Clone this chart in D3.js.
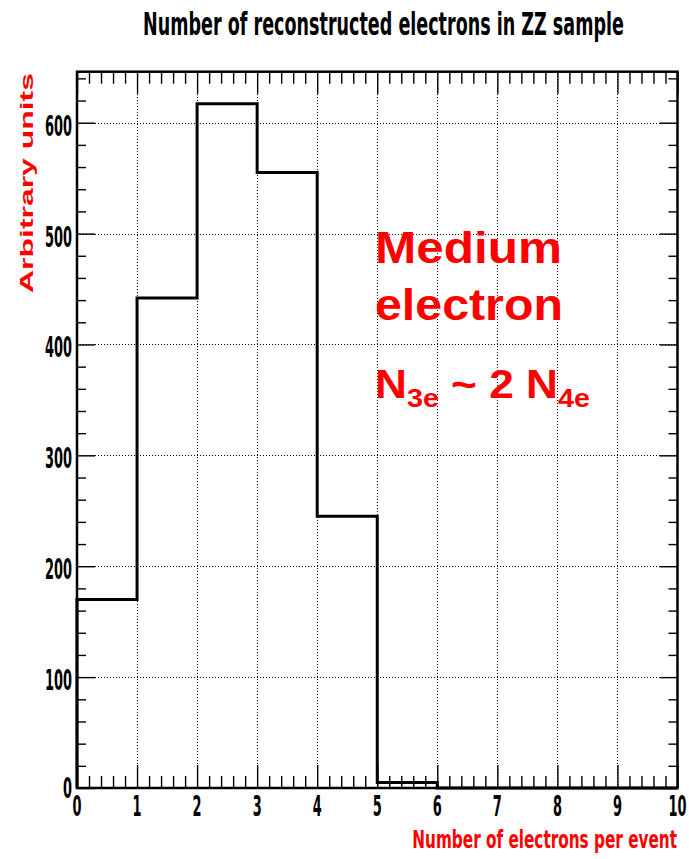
<!DOCTYPE html>
<html>
<head>
<meta charset="utf-8">
<script src="https://cdn.jsdelivr.net/npm/d3@7"></script>
<style>
  body { margin: 0; background: #fff; }
  svg { display: block; }
</style>
</head>
<body>
<svg id="chart" width="689" height="859"></svg>
<script>
// Histogram bins: edges and per-bin counts
const binEdges = [0, 1, 2, 3, 4, 5, 6, 7, 8, 9, 10];
const binCounts = [170, 442, 617, 555, 245, 5, 0, 0, 0, 0];

// Axis ticks
const xMajorTicks = [0, 1, 2, 3, 4, 5, 6, 7, 8, 9, 10];
const yMajorTicks = [0, 100, 200, 300, 400, 500, 600];
const xTickLabels = ["0", "1", "2", "3", "4", "5", "6", "7", "8", "9", "10"];
const yTickLabels = ["0", "100", "200", "300", "400", "500", "600"];

// Texts
const titleText = "Number of reconstructed electrons in ZZ sample";
const xTitleText = "Number of electrons per event";
const yTitleText = "Arbitrary units";

const RED = "#ff0000";
const NARROW = "'Liberation Sans Narrow', 'DejaVu Sans Condensed', 'Arial Narrow', sans-serif";
const WIDE = "'Liberation Sans', Arial, Helvetica, sans-serif";

const svg = d3.select("#chart");

const x = d3.scaleLinear().domain([0, 10]).range([77, 677.5]);
const y = d3.scaleLinear().domain([0, 646]).range([788, 71.7]);
const crisp = v => Math.round(v) + 0.5;

// ---- dotted grid at the major ticks ----
const grid = svg.append("g")
  .attr("stroke", "#000")
  .attr("stroke-width", 1)
  .attr("stroke-dasharray", "1,2");
grid.selectAll("line.h")
  .data(yMajorTicks.filter(v => v > 0))
  .join("line")
  .attr("x1", x(0)).attr("x2", x(10))
  .attr("y1", d => crisp(y(d))).attr("y2", d => crisp(y(d)));
grid.selectAll("line.v")
  .data(xMajorTicks.filter(v => v > 0 && v < 10))
  .join("line")
  .attr("x1", d => crisp(x(d))).attr("x2", d => crisp(x(d)))
  .attr("y1", y(0)).attr("y2", y.range()[1]);

// ---- tick marks on all four sides (pointing inward) ----
const xMinor = d3.range(0, 10.0001, 0.2).filter(v => Math.abs(v - Math.round(v)) > 1e-6);
const yMinor = d3.range(0, 646, 20).filter(v => v % 100 !== 0);

function tickAxis(axisFn, scale, values, size, tx, ty) {
  const g = svg.append("g")
    .attr("transform", `translate(${tx},${ty})`)
    .call(axisFn(scale).tickValues(values).tickSize(size).tickFormat(""));
  g.select(".domain").remove();
  g.selectAll(".tick line").attr("stroke", "#000").attr("stroke-width", 1.4);
  return g;
}
const yTop = y.range()[1];
tickAxis(d3.axisBottom, x, xMajorTicks, -23, 0, y(0));
tickAxis(d3.axisBottom, x, xMinor, -12, 0, y(0));
tickAxis(d3.axisTop, x, xMajorTicks, -22, 0, yTop);
tickAxis(d3.axisTop, x, xMinor, -12, 0, yTop);
tickAxis(d3.axisLeft, y, yMajorTicks, -18, x(0), 0);
tickAxis(d3.axisLeft, y, yMinor, -9, x(0), 0);
tickAxis(d3.axisRight, y, yMajorTicks, -18, x(10), 0);
tickAxis(d3.axisRight, y, yMinor, -9, x(10), 0);

// ---- histogram outline ----
const pts = [[binEdges[0], 0]];
binCounts.forEach((c, i) => {
  pts.push([binEdges[i], c]);
  pts.push([binEdges[i + 1], c]);
});
pts.push([binEdges[binEdges.length - 1], 0]);
svg.append("path")
  .datum(pts)
  .attr("fill", "none")
  .attr("stroke", "#000")
  .attr("stroke-width", 3)
  .attr("stroke-linejoin", "miter")
  .attr("d", d3.line().x(d => x(d[0])).y(d => y(d[1])));

// ---- frame ----
svg.append("rect")
  .attr("x", x(0)).attr("y", yTop)
  .attr("width", x(10) - x(0)).attr("height", y(0) - yTop)
  .attr("fill", "none")
  .attr("stroke", "#000")
  .attr("stroke-width", 2.5);

// ---- text helper: place text, then squeeze horizontally to a given width ----
function placeText(str, tx, ty, opt) {
  const g = svg.append("g").attr("transform", `translate(${tx},${ty})${opt.rotate ? ` rotate(${opt.rotate})` : ""}`);
  const t = g.append("text")
    .attr("x", 0).attr("y", 0)
    .attr("text-anchor", opt.anchor || "start")
    .attr("font-family", opt.family || NARROW)
    .attr("font-weight", opt.weight || "bold")
    .attr("font-size", opt.size)
    .attr("fill", opt.color || "#000");
  if (typeof str === "function") str(t); else t.text(str);
  const sy = opt.sy || 1;
  if (opt.width) {
    const w = t.node().getBBox().width;
    t.attr("transform", `scale(${opt.width / w},${sy})`);
  } else if (opt.scale) {
    t.attr("transform", `scale(${opt.scale},${sy})`);
  }
  return t;
}

// tick label squeeze factor, from the width of a three-digit label
const probe = svg.append("text").attr("font-family", NARROW).attr("font-weight", "bold")
  .attr("font-size", 27).text("600");
const tickScale = 27 / probe.node().getBBox().width;
probe.remove();

yMajorTicks.forEach((v, i) => {
  const by = v === 0 ? y(v) + 10 : y(v) + 13;
  placeText(yTickLabels[i], 72, by, { size: 27, anchor: "end", scale: tickScale, sy: 1.05 });
});
xMajorTicks.forEach((v, i) => {
  placeText(xTickLabels[i], x(v), 816, { size: 27, anchor: "middle", scale: tickScale, sy: 1.05 });
});

// title and axis titles
placeText(titleText, 383.5, 35, { size: 30, anchor: "middle", width: 481, sy: 1.05 });
placeText(xTitleText, 677, 848, { size: 25, anchor: "end", width: 265, color: RED });
placeText(yTitleText, 33, 183, { size: 19, anchor: "middle", width: 220, color: RED,
  family: WIDE, rotate: -90 });

// annotation
placeText("Medium", 375, 263, { size: 44, family: WIDE, width: 187, color: RED });
placeText("electron", 375, 320, { size: 44, family: WIDE, width: 188, color: RED });
placeText(t => {
  t.append("tspan").text("N");
  t.append("tspan").attr("font-size", 26).attr("dy", 9).text("3e");
  t.append("tspan").attr("dy", -9).text(" ~ 2 N");
  t.append("tspan").attr("font-size", 26).attr("dy", 9).text("4e");
}, 375, 398, { size: 40, family: WIDE, width: 215, color: RED });
</script>
</body>
</html>
